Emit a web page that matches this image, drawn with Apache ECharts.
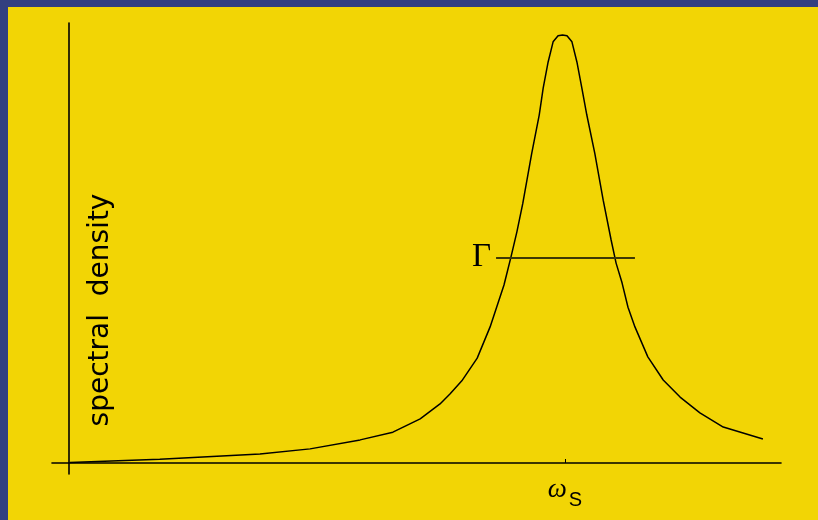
<!DOCTYPE html>
<html>
<head>
<meta charset="utf-8">
<script src="https://cdn.jsdelivr.net/npm/echarts@6/dist/echarts.min.js"></script>
<style>html,body{margin:0;padding:0;}#chart{width:818px;height:520px;}</style>
</head>
<body>
<div id="chart"></div>
<script>
// frequency (in units of omega_S) and spectral density (peak = 1)
var omega = [0.002, 0.183, 0.385, 0.486, 0.587, 0.653, 0.708, 0.748, 0.768, 0.792, 0.823, 0.849, 0.865, 0.877, 0.891, 0.903, 0.915, 0.933, 0.948, 0.956, 0.966, 0.976, 0.986, 0.995, 1.004, 1.014, 1.024, 1.034, 1.044, 1.060, 1.077, 1.093, 1.103, 1.115, 1.127, 1.141, 1.167, 1.198, 1.232, 1.272, 1.319, 1.399];
var density = [0.001, 0.009, 0.021, 0.033, 0.054, 0.072, 0.103, 0.138, 0.161, 0.192, 0.245, 0.318, 0.374, 0.416, 0.481, 0.540, 0.607, 0.724, 0.813, 0.876, 0.937, 0.984, 0.998, 1.000, 0.998, 0.984, 0.937, 0.876, 0.813, 0.724, 0.614, 0.521, 0.467, 0.421, 0.364, 0.318, 0.248, 0.194, 0.154, 0.117, 0.084, 0.056];
// width marker (Gamma)
var gammaStart = 0.861, gammaEnd = 1.141, gammaLevel = 0.480;
var xTicks = [1];
var yTitle = 'spectral  density';

var chart = echarts.init(document.getElementById('chart'), null, {renderer: 'canvas'});
var pts = omega.map(function (w, i) { return [w, density[i]]; });
chart.setOption({
  backgroundColor: '#F2D505',
  animation: false,
  grid: {left: 52, right: 37, top: 23, bottom: 46},
  xAxis: {
    type: 'value', min: -0.03427, max: 1.43548,
    axisLine: {show: true, onZero: true, lineStyle: {color: '#000', width: 1.6}},
    axisTick: {show: true, inside: true, length: 4, customValues: xTicks, lineStyle: {color: '#000', width: 1}},
    axisLabel: {
      show: true, customValues: xTicks, margin: 2,
      formatter: function () { return '{w|ω}{s|S}'; },
      rich: {
        w: {fontFamily: 'Liberation Serif', fontStyle: 'italic', fontSize: 27, color: '#000', verticalAlign: 'bottom', padding: [0, 0, 7, 0]},
        s: {fontFamily: 'Liberation Sans', fontSize: 20, color: '#000', verticalAlign: 'bottom', padding: [0, 0, 0, 2]}
      }
    },
    splitLine: {show: false}
  },
  yAxis: {
    type: 'value', min: -0.0257, max: 1.028,
    axisLine: {show: true, onZero: true, lineStyle: {color: '#000', width: 1.6}},
    axisTick: {show: false}, axisLabel: {show: false}, splitLine: {show: false}
  },
  graphic: [
    {type: 'rect', left: 0, top: 0, z: 100, shape: {width: 818, height: 7}, style: {fill: '#323F80'}},
    {type: 'rect', left: 0, top: 0, z: 100, shape: {width: 8, height: 520}, style: {fill: '#323F80'}},
    {type: 'text', x: 101, y: 310, rotation: Math.PI / 2, z: 10,
     style: {text: yTitle, fontFamily: 'DejaVu Sans', fontSize: 28, fill: '#000', align: 'center', verticalAlign: 'middle'}}
  ],
  series: [{
    type: 'line', data: pts, symbol: 'none', smooth: false,
    lineStyle: {color: '#000', width: 1.5},
    markLine: {
      silent: true, symbol: 'none',
      lineStyle: {color: '#3E3804', width: 2, type: 'solid'},
      label: {show: true, position: 'start', formatter: 'Γ', distance: 5,
              fontFamily: 'Liberation Serif', fontSize: 33, color: '#000', padding: [0, 0, 5, 0]},
      data: [[{coord: [gammaStart, gammaLevel]}, {coord: [gammaEnd, gammaLevel]}]]
    }
  }]
});
</script>
</body>
</html>
